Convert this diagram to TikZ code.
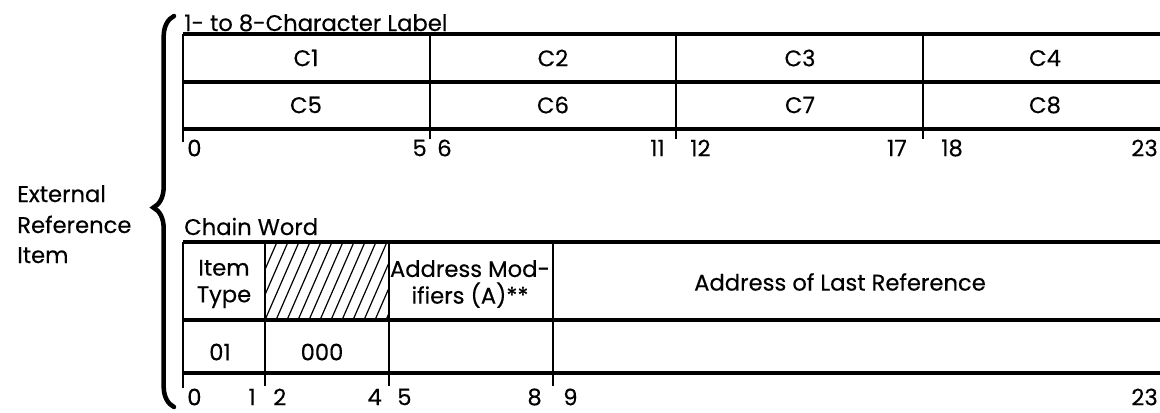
\documentclass[tikz,border=0pt]{standalone}
\usepackage{fontspec}
\newfontfamily\diagfont[FakeBold=0.35]{Poppins}
\usetikzlibrary{decorations.pathreplacing}

\begin{document}
\begin{tikzpicture}[x=0.75pt, y=-0.75pt, font=\fontsize{17}{20}\diagfont,
	frame/.style={line width=2.4pt},
	divider/.style={line width=2.1pt},
	hatch/.style={line width=0.9pt},
	txt/.style={inner sep=0pt}]
	\useasboundingbox (0,0) rectangle (1160,412);
	% side caption and brace
	\node[txt, anchor=base west] (ext) at (17,202) {External};
	\node[txt, anchor=base west] (ref) at (17,233) {Reference};
	\node[txt, anchor=base west] (itm) at (17,263) {Item};
	\draw[line width=3.4pt, line cap=round, decorate, decoration={brace, amplitude=15.5pt, aspect=0.51}] (174,407) -- (174,16);
	% label word
	\node[txt, anchor=base west] (labelword) at (184,31) {1- to 8-Character Label};
	\foreach \y in {34,82,129} \draw[frame] (183,\y) -- (1165,\y);
	\draw[divider] (183,34) -- (183,142);
	\foreach \x in {430,676,923} \draw[divider] (\x,34) -- (\x,139);
	\foreach \n/\x/\y in {1/306/58, 2/553/58, 3/800/58, 4/1045/58, 5/306/105, 6/553/105, 7/800/105, 8/1045/105}
		\node[txt] (c\n) at (\x,\y) {C\n};
	\foreach \t/\x/\a in {0/187/west, 5/427/east, 6/437/west, 11/665/east, 12/690/west, 17/907/east, 18/941/west, 23/1158/east}
		\node[txt, anchor=\a] (a\t) at (\x,148) {\t};
	% chain word
	\node[txt, anchor=base west] (chainword) at (184,235) {Chain Word};
	\begin{scope}
		\clip (265,242) rectangle (389,320);
		\foreach \i in {0,...,15} \draw[hatch] (232+\i*11,320) -- ++(34,-78);
	\end{scope}
	\foreach \y in {242,320,373} \draw[frame] (183,\y) -- (1165,\y);
	\draw[divider] (183,242) -- (183,388);
	\foreach \x in {265,389,553} \draw[divider] (\x,242) -- (\x,386);
	\node[txt, align=center] (itemtype) at (224,284) {Item\\Type};
	\node[txt, align=center] (addrmod) at (470,284) {Address Mod-\\ifiers (A)**};
	\node[txt] (lastref) at (840,282) {Address of Last Reference};
	\node[txt] (typeval) at (220,352) {01};
	\node[txt] (zeros) at (322,352) {000};
	\foreach \t/\x/\a in {0/187/west, 1/256/east, 2/273/west, 4/382/east, 5/397/west, 8/542/east, 9/563/west, 23/1158/east}
		\node[txt, anchor=\a] (b\t) at (\x,397) {\t};
\end{tikzpicture}
\end{document}
